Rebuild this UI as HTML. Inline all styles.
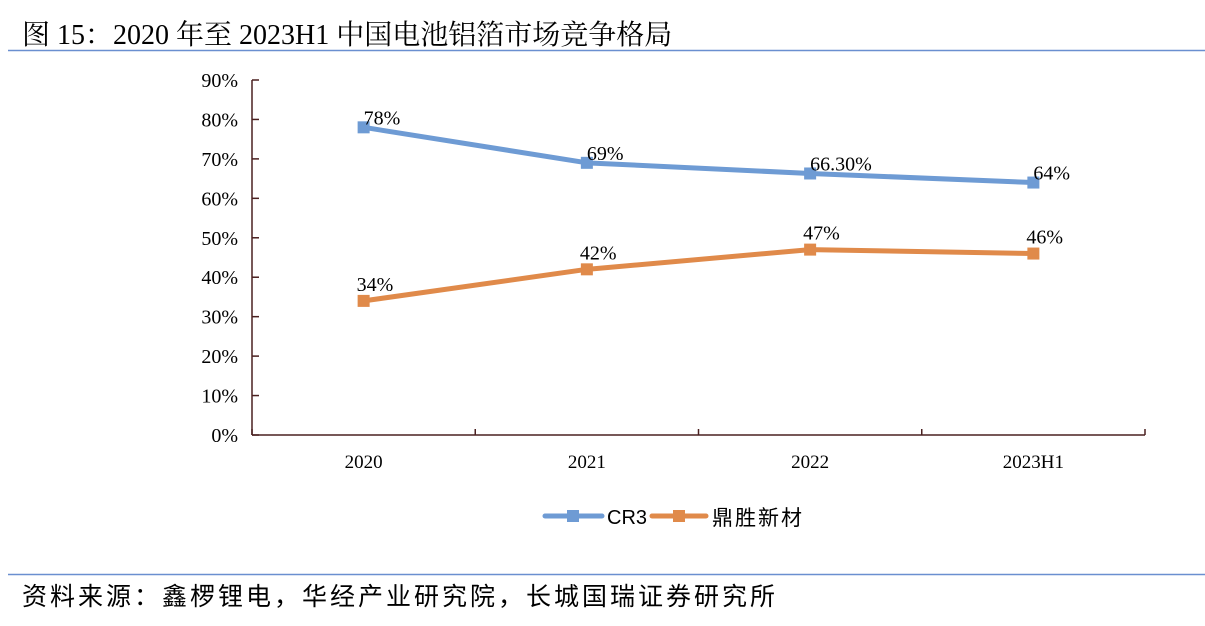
<!DOCTYPE html>
<html><head><meta charset="utf-8"><style>
body{margin:0;background:#fff;width:1205px;height:621px;overflow:hidden}
svg text{font-family:"Liberation Serif","Noto Serif CJK SC",serif}
</style></head><body>
<svg id="c" width="1205" height="621">
<text x="22" y="44" font-size="28">图 15：2020 年至 2023H1 中国电池铝箔市场竞争格局</text>
<line x1="8" y1="50.5" x2="1205" y2="50.5" stroke="#6a8fd0" stroke-width="1.5"/>
<g id="plot"></g>
<g>
<line x1="545" y1="516" x2="602" y2="516" stroke="#6e9bd4" stroke-width="5" stroke-linecap="round"/>
<rect x="567" y="510" width="12" height="12" fill="#6e9bd4"/>
<text x="607" y="524" font-size="20" style="font-family:'Liberation Sans',sans-serif">CR3</text>
<line x1="652" y1="516" x2="706" y2="516" stroke="#e08a4a" stroke-width="5" stroke-linecap="round"/>
<rect x="673" y="510" width="12" height="12" fill="#e08a4a"/>
<text x="712" y="525" font-size="21" letter-spacing="2" style="font-family:'Liberation Sans','Noto Sans CJK SC',sans-serif">鼎胜新材</text>
</g>
<line x1="8" y1="574.5" x2="1205" y2="574.5" stroke="#6a8fd0" stroke-width="1.5"/>
<text x="22" y="605" font-size="25" letter-spacing="3" style="font-family:'Liberation Sans','Noto Sans CJK SC',sans-serif">资料来源：鑫椤锂电，华经产业研究院，长城国瑞证券研究所</text>
</svg>
<script>
const categories=["2020","2021","2022","2023H1"];
const cr3=[78,69,66.3,64];
const cr3Labels=["78%","69%","66.30%","64%"];
const ding=[34,42,47,46];
const dingLabels=["34%","42%","47%","46%"];
const yTicks=[0,10,20,30,40,50,60,70,80,90];
const ns="http://www.w3.org/2000/svg";
const g=document.getElementById('plot');
const X0=252,X1=1145,Y0=435,Y1=80,YMAX=90;
const bw=(X1-X0)/categories.length;
const xs=i=>X0+bw*(i+0.5);
const ys=v=>Y0-(Y0-Y1)*v/YMAX;
function mk(t,a){const e=document.createElementNS(ns,t);for(const k in a)e.setAttribute(k,a[k]);g.appendChild(e);return e;}
const ax="#4a2020";
let e=mk('line',{x1:X0,y1:Y1,x2:X0,y2:Y0,stroke:ax,'stroke-width':1.5});


e=mk('line',{x1:X0,y1:Y0,x2:X1,y2:Y0,stroke:ax,'stroke-width':1.5});


yTicks.forEach(v=>{
 mk('line',{x1:X0,y1:ys(v),x2:X0+7,y2:ys(v),stroke:ax,'stroke-width':1.5});
 const t=mk('text',{x:X0-14,y:ys(v)+7,'font-size':20,'text-anchor':'end'});t.textContent=v+'%';
 
 
});
for(let i=0;i<=categories.length;i++)mk('line',{x1:X0+bw*i,y1:Y0,x2:X0+bw*i,y2:Y0-6,stroke:ax,'stroke-width':1.5});
categories.forEach((c,i)=>{const t=mk('text',{x:xs(i),y:Y0+33,'font-size':19,'text-anchor':'middle'});t.textContent=c;
 
 });
function series(vals,labels,color,name,dx,dy){
 const p=mk('polyline',{points:vals.map((v,i)=>xs(i)+','+ys(v)).join(' '),fill:'none',stroke:color,'stroke-width':5,'stroke-linejoin':'round'});
 
 
 vals.forEach((v,i)=>{
  const r=mk('rect',{x:xs(i)-6,y:ys(v)-6,width:12,height:12,fill:color});
  
  
  const t=mk('text',{x:xs(i)+dx,y:ys(v)+dy,'font-size':20});t.textContent=labels[i];
  
  
 });
}
series(cr3,cr3Labels,'#6e9bd4','cr3',0,-3);
series(ding,dingLabels,'#e08a4a','dingsheng',-7,-10);
</script>
</body></html>
